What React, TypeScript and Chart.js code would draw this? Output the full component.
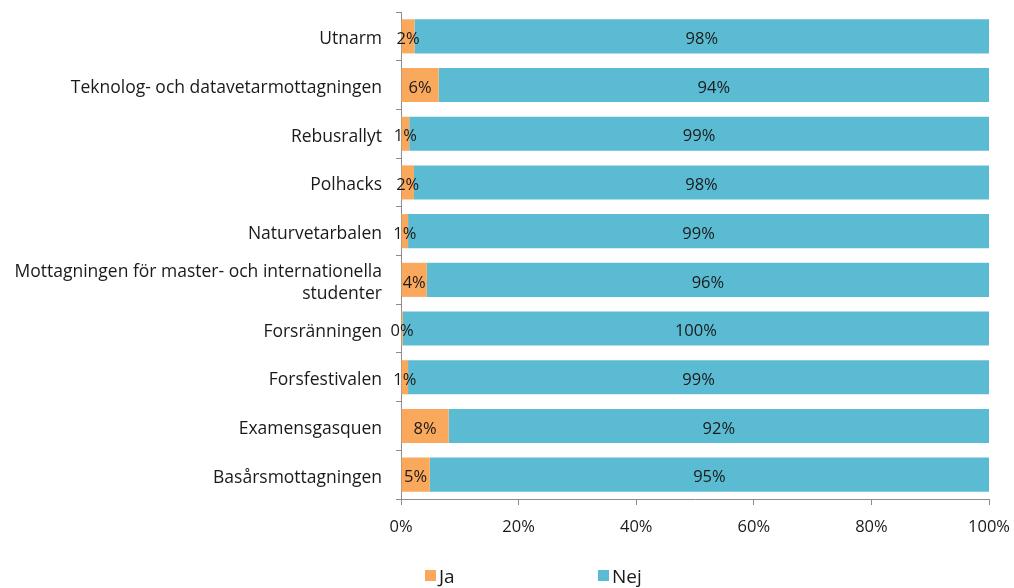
import React, { useEffect, useRef } from "react";
import { Chart, registerables } from "chart.js";

Chart.register(...registerables);

const categories: (string | string[])[] = [
  "Utnarm",
  "Teknolog- och datavetarmottagningen",
  "Rebusrallyt",
  "Polhacks",
  "Naturvetarbalen",
  ["Mottagningen för master- och internationella", "studenter"],
  "Forsränningen",
  "Forsfestivalen",
  "Examensgasquen",
  "Basårsmottagningen",
];
const jaValues = [2.3, 6.4, 1.4, 2.2, 1.2, 4.4, 0.3, 1.2, 8.1, 4.9];
const nejValues = jaValues.map((v) => 100 - v);
const jaLabels = ["2%", "6%", "1%", "2%", "1%", "4%", "0%", "1%", "8%", "5%"];
const nejLabels = ["98%", "94%", "99%", "98%", "99%", "96%", "100%", "99%", "92%", "95%"];
const xTicks = [0, 20, 40, 60, 80, 100];

const FONT = "'Open Sans', 'Liberation Sans', sans-serif";
const ORANGE = "#F9A85C";
const BLUE = "#5BBBD3";

const barLabelPlugin = {
  id: "barLabels",
  afterDatasetsDraw(chart: any) {
    const ctx = chart.ctx;
    ctx.save();
    ctx.font = `16.5px ${FONT}`;
    ctx.fillStyle = "#1a1a1a";
    ctx.textAlign = "center";
    ctx.textBaseline = "middle";
    const labelsets = [jaLabels, nejLabels];
    chart.data.datasets.forEach((_ds: any, di: number) => {
      const meta = chart.getDatasetMeta(di);
      meta.data.forEach((bar: any, i: number) => {
        const x = (bar.x + bar.base) / 2;
        ctx.fillText(labelsets[di][i], x, bar.y + 3);
      });
    });
    ctx.restore();
  },
};

const legendPlugin = {
  id: "customLegend",
  afterDraw(chart: any) {
    const ctx = chart.ctx;
    ctx.save();
    ctx.font = `19px ${FONT}`;
    ctx.textBaseline = "middle";
    ctx.textAlign = "left";
    const items = [
      { label: "Ja", color: ORANGE, x: 425 },
      { label: "Nej", color: BLUE, x: 598 },
    ];
    const y = 576;
    items.forEach((it) => {
      ctx.fillStyle = it.color;
      ctx.fillRect(it.x, y - 6, 11, 11);
      ctx.fillStyle = "#1a1a1a";
      ctx.fillText(it.label, it.x + 14, y + 2);
    });
    ctx.restore();
  },
};

export default function App() {
  const ref = useRef<HTMLCanvasElement>(null);
  useEffect(() => {
    if (!ref.current) return;
    const chart = new Chart(ref.current, {
      type: "bar",
      data: {
        labels: categories,
        datasets: [
          {
            label: "Ja",
            data: jaValues,
            backgroundColor: ORANGE,
            barPercentage: 0.7,
            categoryPercentage: 1,
          },
          {
            label: "Nej",
            data: nejValues,
            backgroundColor: BLUE,
            barPercentage: 0.7,
            categoryPercentage: 1,
          },
        ],
      },
      options: {
        indexAxis: "y",
        animation: false,
        responsive: false,
        maintainAspectRatio: false,
        layout: { padding: { top: 12, right: 25, bottom: 0, left: 0 } },
        plugins: {
          legend: { display: false },
          tooltip: { enabled: false },
        },
        scales: {
          x: {
            stacked: true,
            min: 0,
            max: 100,
            afterBuildTicks(scale: any) {
              scale.ticks = xTicks.map((v) => ({ value: v }));
            },
            afterFit(scale: any) {
              scale.height = 89;
              scale.paddingLeft = 0;
              scale.paddingRight = 0;
            },
            grid: {
              drawOnChartArea: false,
              color: "#8c8c8c",
              tickLength: 6,
            },
            border: { color: "#8c8c8c", width: 1 },
            ticks: {
              padding: 12,
              color: "#1a1a1a",
              font: { family: FONT, size: 16.5 },
              callback: (v: any) => `${v}%`,
              maxRotation: 0,
            },
          },
          y: {
            stacked: true,
            afterFit(scale: any) {
              scale.width = 401;
              scale.paddingTop = 0;
              scale.paddingBottom = 0;
            },
            grid: {
              drawOnChartArea: false,
              color: "#8c8c8c",
              tickLength: 5,
              offset: true,
            },
            border: { color: "#8c8c8c", width: 1 },
            ticks: {
              padding: 14,
              labelOffset: 3,
              color: "#1a1a1a",
              font: { family: FONT, size: 17.5, lineHeight: 1.25 },
              autoSkip: false,
            },
          },
        },
      },
      plugins: [barLabelPlugin, legendPlugin],
    } as any);
    return () => chart.destroy();
  }, []);
  return (
    <div style={{ position: "absolute", left: 0, top: 0, width: 1014, height: 588, background: "#fff" }}>
      <canvas ref={ref} width={1014} height={588} style={{ width: 1014, height: 588 }} />
    </div>
  );
}
